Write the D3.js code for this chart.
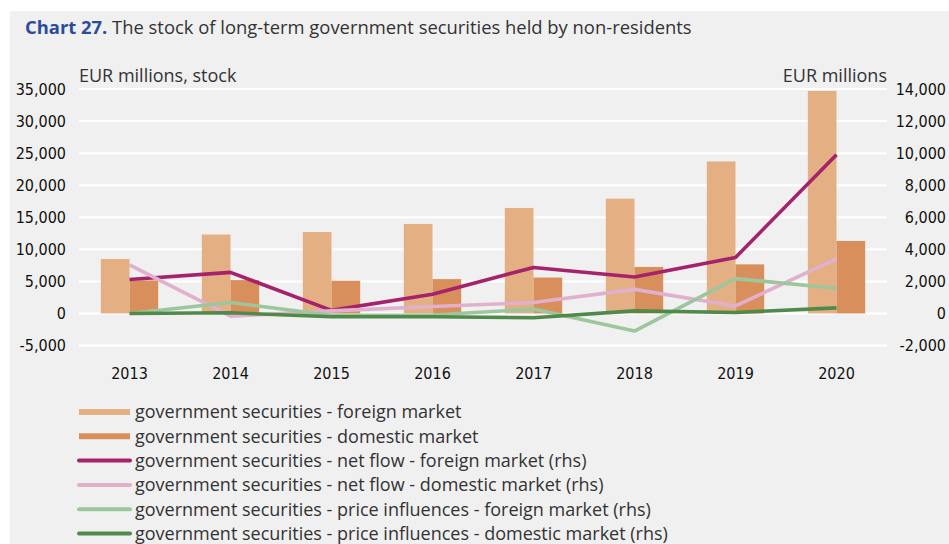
<!DOCTYPE html>
<html>
<head>
<meta charset="utf-8">
<script src="https://cdn.jsdelivr.net/npm/d3@7"></script>
<style>
  body { margin: 0; background: #fff; }
  #chart { width: 949px; height: 544px; }
  .tick text { font-family: "Liberation Sans Narrow", "DejaVu Sans Condensed", sans-serif; font-size: 16px; fill: #111; }
</style>
</head>
<body>
<div id="chart"></div>
<script>
var years = ["2013", "2014", "2015", "2016", "2017", "2018", "2019", "2020"];

// stocks, lhs (EUR millions)
var foreignStock  = [8500, 12300, 12700, 13950, 16450, 17900, 23700, 34700];
var domesticStock = [5150, 5200, 5100, 5350, 5600, 7250, 7650, 11300];

// flows, rhs (EUR millions)
var netFlowForeign   = [2120, 2560, 190, 1200, 2870, 2270, 3490, 9900];
var netFlowDomestic  = [3030, -170, 160, 430, 680, 1500, 470, 3400];
var priceForeign     = [0, 680, -120, -100, 270, -1100, 2170, 1570];
var priceDomestic    = [0, 40, -210, -210, -270, 160, 60, 350];

var leftTicks  = [-5000, 0, 5000, 10000, 15000, 20000, 25000, 30000, 35000];
var rightTicks = [-2000, 0, 2000, 4000, 6000, 8000, 10000, 12000, 14000];

function draw(){
    var W = 949, H = 544;
    var plot = { left: 79, right: 887, top: 89, bottom: 345.5 };

    var svg = d3.select("#chart").append("svg")
        .attr("width", W)
        .attr("height", H);

    svg.append("rect")
        .attr("x", 10).attr("y", 11)
        .attr("width", W - 10).attr("height", H - 11)
        .attr("fill", "#f0f0f0");

    var title = svg.append("text")
        .attr("x", 25).attr("y", 34)
        .style("font-family", "'Open Sans', sans-serif")
        .style("font-size", "18.4px")
        .attr("fill", "#333");
    title.append("tspan").attr("font-weight", "bold").attr("fill", "#2b4c9e").text("Chart 27.");
    title.append("tspan").text(" The stock of long-term government securities held by non-residents");

    var x = d3.scaleBand().domain(years).range([plot.left, plot.right]);
    var xSub = d3.scaleBand().domain(["foreign", "domestic"])
        .range([0, x.bandwidth()]).paddingInner(0).paddingOuter(0.76);
    var yL = d3.scaleLinear().domain([-5000, 35000]).range([plot.bottom, plot.top]);
    var yR = d3.scaleLinear().domain([-2000, 14000]).range([plot.bottom, plot.top]);

    // gridlines
    svg.append("g").selectAll("line")
        .data(leftTicks)
      .enter().append("line")
        .attr("x1", plot.left).attr("x2", plot.right)
        .attr("y1", function(d) { return yL(d); })
        .attr("y2", function(d) { return yL(d); })
        .attr("stroke", "#fff")
        .attr("stroke-width", 2);

    // axes - hyphen minus like the original
    var comma = d3.format(",");
    var fmt = function(d) { return comma(d).replace("\u2212", "-"); };
    svg.append("g")
        .attr("transform", "translate(" + plot.left + ",0)")
        .call(d3.axisLeft(yL).tickValues(leftTicks).tickFormat(fmt).tickSize(0).tickPadding(13))
        .call(function(g) { g.select(".domain").remove(); });

    svg.append("g")
        .attr("transform", "translate(946,0)")
        .call(d3.axisLeft(yR).tickValues(rightTicks).tickFormat(fmt).tickSize(0).tickPadding(0))
        .call(function(g) { g.select(".domain").remove(); });

    svg.append("g")
        .attr("transform", "translate(0,368)")
        .call(d3.axisBottom(x).tickSize(0).tickPadding(0))
        .call(function(g) { g.select(".domain").remove(); });

    svg.append("text")
        .attr("x", plot.left).attr("y", 82)
        .style("font-family", "'Open Sans', sans-serif")
        .style("font-size", "18px")
        .attr("fill", "#333")
        .text("EUR millions, stock");
    svg.append("text")
        .attr("x", plot.right).attr("y", 82)
        .attr("text-anchor", "end")
        .style("font-family", "'Open Sans', sans-serif")
        .style("font-size", "18px")
        .attr("fill", "#333")
        .text("EUR millions");

    // bars
    var barSeries = [
        { key: "foreign", values: foreignStock, color: "#e4af82" },
        { key: "domestic", values: domesticStock, color: "#d98f5b" }
    ];
    barSeries.forEach(function(s) {
        svg.append("g").selectAll("rect")
            .data(s.values)
          .enter().append("rect")
            .attr("x", function(d, i) { return x(years[i]) + xSub(s.key); })
            .attr("width", xSub.bandwidth())
            .attr("y", function(d) { return yL(Math.max(0, d)); })
            .attr("height", function(d) { return Math.abs(yL(d) - yL(0)); })
            .attr("fill", s.color);
    });

    // lines (rhs)
    var lineSeries = [
        { values: netFlowForeign, color: "#a4236b" },
        { values: netFlowDomestic, color: "#e1b0cc" },
        { values: priceForeign, color: "#9ec69d" },
        { values: priceDomestic, color: "#4f8a4b" }
    ];
    var line = d3.line()
        .x(function(d, i) { return x(years[i]) + x.bandwidth() / 2; })
        .y(function(d) { return yR(d); });
    lineSeries.forEach(function(s) {
        svg.append("path")
            .datum(s.values)
            .attr("d", line)
            .attr("fill", "none")
            .attr("stroke", s.color)
            .attr("stroke-width", 3.6)
            .attr("stroke-linejoin", "round");
    });

    // legend
    var legendItems = [
        { label: "government securities - foreign market", color: "#e4af82", w: 6, cap: "butt" },
        { label: "government securities - domestic market", color: "#d98f5b", w: 6, cap: "butt" },
        { label: "government securities - net flow - foreign market (rhs)", color: "#a4236b", w: 4, cap: "round" },
        { label: "government securities - net flow - domestic market (rhs)", color: "#e1b0cc", w: 4, cap: "round" },
        { label: "government securities - price influences - foreign market (rhs)", color: "#9ec69d", w: 4, cap: "round" },
        { label: "government securities - price influences - domestic market (rhs)", color: "#4f8a4b", w: 4, cap: "round" }
    ];
    var legend = svg.append("g").selectAll("g")
        .data(legendItems)
      .enter().append("g")
        .attr("transform", function(d, i) { return "translate(0," + (412 + i * 24.3) + ")"; });
    legend.append("line")
        .attr("x1", 79).attr("x2", 130)
        .attr("y1", 0).attr("y2", 0)
        .attr("stroke", function(d) { return d.color; })
        .attr("stroke-width", function(d) { return d.w; })
        .attr("stroke-linecap", function(d) { return d.cap; });
    legend.append("text")
        .attr("x", 135).attr("y", 0)
        .attr("dy", "0.35em")
        .style("font-family", "'Open Sans', sans-serif")
        .style("font-size", "18px")
        .attr("fill", "#333")
        .text(function(d) { return d.label; });
}
draw();
</script>
</body>
</html>
